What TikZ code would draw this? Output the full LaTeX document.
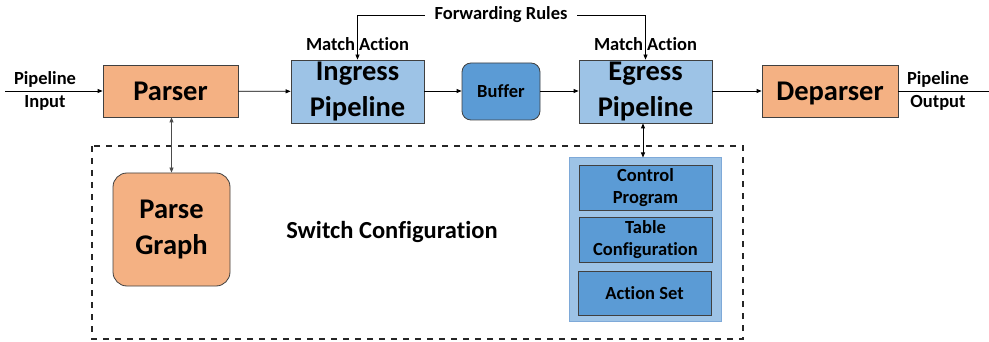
\documentclass[tikz,border=0pt]{standalone}
\usepackage{fontspec}
\setmainfont{Carlito}[Ligatures=NoCommon]
\usetikzlibrary{positioning,arrows.meta}
\definecolor{parsefill}{HTML}{F4B183}
\definecolor{pipefill}{HTML}{9DC3E6}
\definecolor{bufffill}{HTML}{5B9BD5}
\definecolor{boxline}{HTML}{404040}
\definecolor{cfgline}{HTML}{7EA9D8}

\begin{document}
\begin{tikzpicture}[x=1pt,y=-1pt,>={Triangle[length=5pt,width=4pt]},
  block/.style={draw=boxline,line width=0.8pt,align=center,inner sep=0pt},
  big/.style={font=\fontsize{28.5}{35.5}\bfseries\selectfont},
  small/.style={font=\fontsize{18.5}{22.5}\bfseries\selectfont},
  label/.style={small,align=center,inner sep=0pt}]
\useasboundingbox (0,0) rectangle (989,342);

% main pipeline
\node[block,big,fill=parsefill,minimum width=135pt,minimum height=52pt,text depth=0pt] (parser) at (170.5,91) {Parser};
\node[block,big,fill=pipefill,minimum width=133pt,minimum height=63pt] (ingress) at (357.5,91.5) {Ingress\\Pipeline};
\node[block,small,fill=bufffill,rounded corners=9pt,minimum width=78pt,minimum height=57pt] (buffer) at (501,91.5) {Buffer};
\node[block,big,fill=pipefill,minimum width=133pt,minimum height=63pt] (egress) at (645.5,91.5) {Egress\\Pipeline};
\node[block,big,fill=parsefill,minimum width=136pt,minimum height=52pt,text depth=0pt] (deparser) at (830,91) {Deparser};

\node[label] (pin) at (45,91) {Pipeline\\Input};
\node[label] (pout) at (938,91) {Pipeline\\Output};
\coordinate (pinstart) at (5,91);
\coordinate (poutend) at (989,91);

% forwarding rules
\node[label,outer xsep=10pt] (fwd) at (501,15) {Forwarding Rules};
\node[label] (mai) at (357.5,44) {Match Action};
\node[label] (mae) at (645.5,44) {Match Action};

% switch configuration
\draw[line width=1.2pt,draw=black!85,dash pattern=on 6pt off 6pt] (92,146) rectangle (743,339);
\node[label,font=\fontsize{24.5}{29}\bfseries\selectfont] (swcfg) at (392,232) {Switch Configuration};
\node[block,big,fill=parsefill,rounded corners=14pt,minimum width=117pt,minimum height=113pt] (pgraph) at (171.5,229.5) {Parse\\Graph};
\node[draw=cfgline,fill=pipefill,line width=1pt,minimum width=152pt,minimum height=163pt,inner sep=0pt] (cfg) at (645,239.5) {};
\node[block,small,fill=bufffill,minimum width=133pt,minimum height=45pt] (ctrl) at (645.5,187.5) {Control\\Program};
\node[block,small,fill=bufffill,minimum width=133pt,minimum height=45pt] (table) at (645.5,239.5) {Table\\Configuration};
\node[block,small,fill=bufffill,minimum width=133pt,minimum height=44pt] (actset) at (644.5,293) {Action Set};

% connectors
\draw[->,line width=0.8pt] (pinstart) -- (parser.west);
\draw[->,line width=0.8pt] (parser) -- (ingress);
\draw[->,line width=0.8pt] (ingress.east |- parser) -- (buffer.west |- parser);
\draw[->,line width=0.8pt] (buffer.east |- parser) -- (egress.west |- parser);
\draw[->,line width=0.8pt] (egress.east |- parser) -- (deparser.west);
\draw[line width=0.8pt] (deparser.east) -- (poutend);
\draw[->,line width=0.8pt] (fwd.west) -| (ingress.north);
\draw[->,line width=0.8pt] (fwd.east) -| (egress.north);
\draw[<->,line width=0.8pt,draw=black!70] (parser.south -| pgraph.north) -- (pgraph.north);
\draw[<->,line width=0.8pt] (egress.south -| 643,0) -- (cfg.north -| 643,0);
\end{tikzpicture}
\end{document}
